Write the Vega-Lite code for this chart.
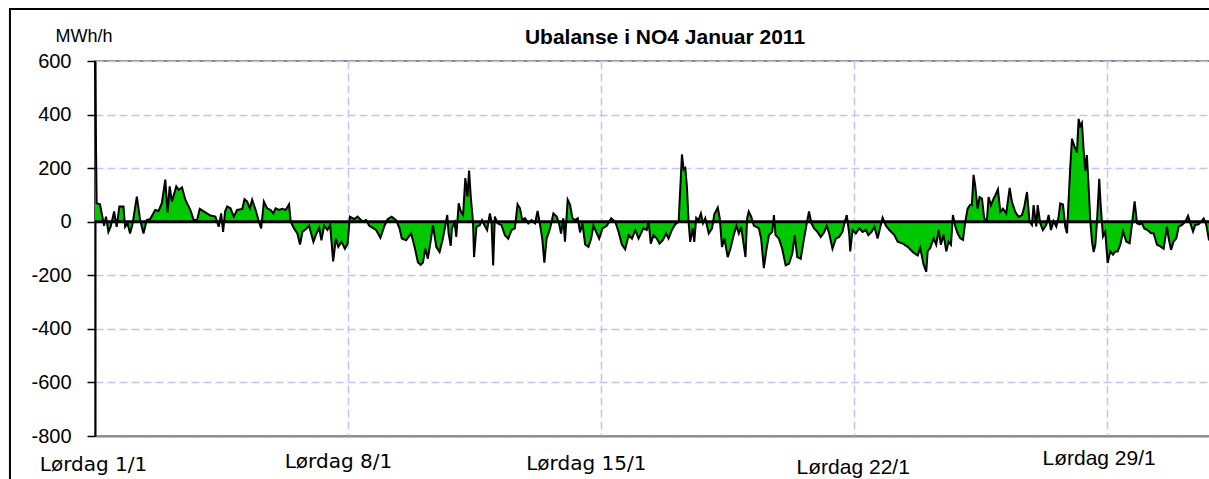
{
  "$schema": "https://vega.github.io/schema/vega-lite/v6.json",
  "width": 1120,
  "height": 375,
  "autosize": {"type": "none"},
  "padding": {"left": 95, "top": 61, "right": 0, "bottom": 43},
  "background": "white",
  "config": {"view": {"stroke": "#8c8c8c", "strokeWidth": 2}, "font": "Liberation Sans"},
  "title": {"text": "Ubalanse i NO4 Januar 2011", "font": "Liberation Sans", "fontSize": 21, "fontWeight": "bold", "anchor": "middle", "frame": "group", "baseline": "alphabetic", "offset": -57, "dx": 10, "color": "black"},
  "data": {"values": [
    {"h":0,"v":600},{"h":1.1,"v":69},{"h":3.3,"v":65},{"h":5.1,"v":13},{"h":6,"v":-15},{"h":7.3,"v":19},{"h":8.9,"v":-38},{"h":10.4,"v":-19},{"h":12.7,"v":38},{"h":14.4,"v":-19},{"h":16.2,"v":57},{"h":18.9,"v":57},{"h":20,"v":-19},{"h":21.6,"v":-6},{"h":23.3,"v":-44},{"h":24.9,"v":-10},{"h":27.8,"v":94},{"h":30,"v":6},{"h":32.2,"v":-44},{"h":34.4,"v":6},{"h":36.7,"v":10},{"h":40,"v":44},{"h":42.2,"v":40},{"h":44.4,"v":69},{"h":46.7,"v":157},{"h":48.2,"v":35},{"h":49.6,"v":132},{"h":51.1,"v":75},{"h":54,"v":132},{"h":55.6,"v":119},{"h":57.8,"v":128},{"h":60,"v":82},{"h":63.3,"v":44},{"h":65.6,"v":6},{"h":67.8,"v":6},{"h":69.6,"v":48},{"h":73.3,"v":35},{"h":76.7,"v":23},{"h":80,"v":19},{"h":82.2,"v":-19},{"h":83.8,"v":31},{"h":85.1,"v":-38},{"h":86.4,"v":38},{"h":87.8,"v":57},{"h":90,"v":50},{"h":92.2,"v":19},{"h":94.4,"v":44},{"h":97.8,"v":48},{"h":99.3,"v":84},{"h":101.1,"v":75},{"h":102.9,"v":50},{"h":104.4,"v":82},{"h":106.7,"v":44},{"h":108.9,"v":0},{"h":110.4,"v":-25},{"h":112.2,"v":75},{"h":114.4,"v":50},{"h":116.7,"v":44},{"h":118.4,"v":31},{"h":120,"v":50},{"h":122.2,"v":44},{"h":124.4,"v":48},{"h":126.7,"v":44},{"h":128.9,"v":65},{"h":130,"v":0},{"h":132.2,"v":-25},{"h":134.4,"v":-44},{"h":136.2,"v":-85},{"h":137.8,"v":-38},{"h":140,"v":-28},{"h":142.2,"v":-15},{"h":145.1,"v":-75},{"h":146.7,"v":-50},{"h":148.9,"v":-23},{"h":150.4,"v":-69},{"h":152.2,"v":-15},{"h":154.4,"v":-31},{"h":156.2,"v":-13},{"h":158.2,"v":-148},{"h":160,"v":-63},{"h":161.6,"v":-94},{"h":163.8,"v":-75},{"h":166,"v":-101},{"h":167.8,"v":-82},{"h":169.3,"v":19},{"h":172.2,"v":10},{"h":174.4,"v":19},{"h":177.8,"v":0},{"h":180,"v":6},{"h":182.2,"v":-15},
    {"h":184.5,"v":-23},{"h":186.7,"v":-31},{"h":189.6,"v":-60},{"h":192.3,"v":-15},{"h":194.5,"v":10},{"h":197.1,"v":19},{"h":200,"v":6},{"h":202.3,"v":-25},{"h":203.8,"v":-63},{"h":206.7,"v":-69},{"h":210,"v":-44},{"h":212.3,"v":-94},{"h":214.5,"v":-151},{"h":216.3,"v":-161},{"h":217.8,"v":-153},{"h":219.4,"v":-101},{"h":221.1,"v":-138},{"h":222.9,"v":-75},{"h":224.5,"v":-13},{"h":226.7,"v":-94},{"h":228.9,"v":-113},{"h":231.1,"v":-63},{"h":232.7,"v":-15},{"h":234,"v":25},{"h":234.9,"v":-44},{"h":236.3,"v":-90},{"h":237.1,"v":-25},{"h":238.9,"v":-3},{"h":240,"v":-57},{"h":241.6,"v":69},{"h":242.9,"v":40},{"h":244.5,"v":25},{"h":246,"v":163},{"h":247.4,"v":94},{"h":248.5,"v":191},{"h":249.6,"v":94},{"h":251.1,"v":0},{"h":251.8,"v":-132},{"h":253.4,"v":-19},{"h":255.6,"v":-13},{"h":257.1,"v":6},{"h":258.9,"v":-15},{"h":260.5,"v":-31},{"h":262.3,"v":31},{"h":263.4,"v":0},{"h":264.5,"v":-163},{"h":265.6,"v":19},{"h":267.4,"v":-6},{"h":270,"v":-13},{"h":272.3,"v":-50},{"h":274.5,"v":-63},{"h":276.7,"v":-31},{"h":278.9,"v":-25},{"h":280.7,"v":65},{"h":282.3,"v":50},{"h":283.8,"v":6},{"h":285.6,"v":13},{"h":287.8,"v":-6},{"h":290,"v":6},{"h":292.3,"v":-6},{"h":294,"v":40},{"h":295.6,"v":-10},{"h":297.1,"v":-63},{"h":298.5,"v":-153},{"h":300,"v":-63},{"h":302.3,"v":-25},{"h":304.5,"v":31},{"h":306.7,"v":19},{"h":308.2,"v":-6},{"h":309.6,"v":-44},{"h":311.1,"v":13},{"h":312.2,"v":-75},{"h":314,"v":82},{"h":315.6,"v":63},{"h":317.1,"v":13},{"h":318.9,"v":6},{"h":320.7,"v":13},{"h":322.2,"v":-40},{"h":323.8,"v":-6},{"h":325.6,"v":-85},{"h":327.8,"v":-94},{"h":329.6,"v":-63},{"h":331.1,"v":-15},{"h":333.4,"v":-44},{"h":334.9,"v":-63},{"h":337.1,"v":-25},{"h":340,"v":-15},{"h":342.9,"v":13},{"h":345.6,"v":0},{"h":347.8,"v":-38},{"h":350,"v":-85},{"h":352.2,"v":-103},{"h":354.5,"v":-50},{"h":356.7,"v":-63},{"h":358.9,"v":-31},{"h":361.1,"v":-63},
    {"h":364.3,"v":-25},{"h":366.5,"v":-31},{"h":367.7,"v":3},{"h":369.2,"v":-82},{"h":371,"v":-50},{"h":373.2,"v":-63},{"h":375,"v":-82},{"h":377.2,"v":-69},{"h":379.4,"v":-44},{"h":381,"v":-63},{"h":383.2,"v":-31},{"h":385.4,"v":-10},{"h":387.7,"v":0},{"h":388.8,"v":126},{"h":389.9,"v":251},{"h":391,"v":195},{"h":392.1,"v":201},{"h":393.2,"v":132},{"h":394.3,"v":0},{"h":395.4,"v":-75},{"h":397,"v":-25},{"h":398.1,"v":-75},{"h":399.4,"v":15},{"h":401,"v":6},{"h":402.5,"v":31},{"h":403.9,"v":-6},{"h":405.4,"v":13},{"h":407.7,"v":-44},{"h":409.9,"v":-25},{"h":411.4,"v":28},{"h":413.7,"v":53},{"h":415,"v":13},{"h":416.5,"v":-94},{"h":418.1,"v":-63},{"h":420.3,"v":-132},{"h":422.1,"v":-101},{"h":424.3,"v":-50},{"h":426.1,"v":-15},{"h":427.7,"v":-44},{"h":429.2,"v":-19},{"h":430.5,"v":-69},{"h":432.1,"v":-132},{"h":433.2,"v":13},{"h":434.3,"v":38},{"h":435.9,"v":19},{"h":437.7,"v":-15},{"h":439.4,"v":-19},{"h":441,"v":-25},{"h":442.5,"v":-63},{"h":444.3,"v":-173},{"h":446.1,"v":-101},{"h":447.7,"v":-50},{"h":449.9,"v":-38},{"h":451,"v":25},{"h":452.1,"v":-50},{"h":454.3,"v":-63},{"h":456.5,"v":-101},{"h":458.8,"v":-163},{"h":461,"v":-157},{"h":463.2,"v":-119},{"h":464.8,"v":-50},{"h":466.5,"v":-132},{"h":468.8,"v":-138},{"h":471,"v":-63},{"h":472.8,"v":-6},{"h":474.3,"v":38},{"h":475.9,"v":-6},{"h":477.7,"v":-25},{"h":479.9,"v":-38},{"h":482.1,"v":-57},{"h":484.3,"v":-40},{"h":486.1,"v":-15},{"h":487.7,"v":-44},{"h":489.9,"v":-101},{"h":492.1,"v":-63},{"h":494.3,"v":-57},{"h":496.5,"v":-38},{"h":498.1,"v":0},{"h":499.4,"v":25},{"h":501,"v":-44},{"h":501.7,"v":-111},{"h":503.2,"v":-31},{"h":505.4,"v":-44},{"h":507.7,"v":-25},{"h":509.9,"v":-38},{"h":512.1,"v":-31},{"h":513.7,"v":-50},{"h":515.9,"v":-38},{"h":517.7,"v":-19},{"h":519.9,"v":-63},{"h":521.7,"v":-19},{"h":523.2,"v":15},{"h":525.4,"v":-15},{"h":527.7,"v":-31},{"h":531,"v":-50},{"h":533.2,"v":-75},{"h":536.6,"v":-82},{"h":539.9,"v":-94},{"h":543.2,"v":-113},{"h":546.5,"v":-126},
    {"h":548.2,"v":-98},{"h":550.4,"v":-160},{"h":552.2,"v":-187},{"h":553.1,"v":-111},{"h":554.8,"v":-98},{"h":557.1,"v":-62},{"h":558.8,"v":-86},{"h":560.4,"v":-31},{"h":561.9,"v":-86},{"h":563.7,"v":-49},{"h":565.5,"v":-111},{"h":567,"v":-74},{"h":568.6,"v":-86},{"h":569.9,"v":25},{"h":571.5,"v":-18},{"h":573,"v":-43},{"h":574.8,"v":-62},{"h":576.6,"v":-68},{"h":578.1,"v":0},{"h":579.7,"v":49},{"h":581.4,"v":64},{"h":582.5,"v":62},{"h":583.6,"v":175},{"h":584.7,"v":135},{"h":586.3,"v":49},{"h":587.6,"v":92},{"h":589.2,"v":86},{"h":590.7,"v":12},{"h":592.5,"v":6},{"h":593.6,"v":92},{"h":595.2,"v":62},{"h":596.9,"v":86},{"h":598,"v":98},{"h":599.8,"v":121},{"h":601.4,"v":37},{"h":603.1,"v":49},{"h":605.3,"v":31},{"h":607.6,"v":126},{"h":609.1,"v":74},{"h":611.3,"v":37},{"h":613.5,"v":18},{"h":615.8,"v":25},{"h":617.3,"v":55},{"h":619.1,"v":111},{"h":620.8,"v":0},{"h":622.4,"v":-12},{"h":623.5,"v":62},{"h":625.3,"v":-18},{"h":626.2,"v":62},{"h":627.9,"v":-6},{"h":629.7,"v":-31},{"h":631.9,"v":-12},{"h":633.5,"v":25},{"h":635,"v":-31},{"h":636.8,"v":2},{"h":638.6,"v":-18},{"h":640.1,"v":18},{"h":641.2,"v":68},{"h":643,"v":64},{"h":644.5,"v":-18},{"h":645.7,"v":-43},{"h":646.8,"v":86},{"h":647.9,"v":209},{"h":649,"v":310},{"h":650.5,"v":283},{"h":652.3,"v":259},{"h":653.4,"v":384},{"h":654.5,"v":357},{"h":655.6,"v":369},{"h":656.7,"v":271},{"h":657.8,"v":191},{"h":658.9,"v":249},{"h":660,"v":135},{"h":661.2,"v":0},{"h":662.3,"v":-74},{"h":663.4,"v":-113},{"h":664.5,"v":-86},{"h":665.6,"v":0},{"h":667.1,"v":160},{"h":668.2,"v":49},{"h":669.6,"v":-55},{"h":671.1,"v":-37},{"h":672.7,"v":-154},{"h":674.4,"v":-111},{"h":676.2,"v":-123},{"h":677.8,"v":-111},{"h":679.3,"v":-111},{"h":681.1,"v":-86},{"h":682.9,"v":-37},{"h":685.1,"v":-74},{"h":687.3,"v":-80},{"h":688.8,"v":-12},{"h":690.6,"v":76},{"h":692.2,"v":-6},{"h":693.9,"v":-10},{"h":695.5,"v":-6},{"h":697,"v":-25},{"h":699.2,"v":-31},{"h":701.5,"v":-43},{"h":703.2,"v":-43},{"h":705.5,"v":-86},{"h":707.7,"v":-92},{"h":709.9,"v":-101},{"h":712.1,"v":-18},{"h":713.2,"v":-62},{"h":714.8,"v":-105},{"h":716.5,"v":-74},{"h":718.3,"v":-62},{"h":719.9,"v":-18},{"h":722.1,"v":-12},{"h":724.3,"v":0},{"h":726.1,"v":22},{"h":727.6,"v":-6},{"h":729.4,"v":-37},{"h":730.9,"v":-12},{"h":733.1,"v":-10},{"h":734.9,"v":0},{"h":736.5,"v":12},{"h":738.2,"v":-12},{"h":739.8,"v":-62},{"h":742,"v":-40},{"h":744,"v":-55}
  ]},
  "layer": [
    {
      "data": {"values": [{}]},
      "mark": {"type": "rect", "fill": "transparent", "stroke": "black", "strokeWidth": 2, "clip": false},
      "encoding": {
        "x": {"datum": -56.5, "type": "quantitative", "scale": {"domain": [0, 744], "nice": false, "zero": false}},
        "x2": {"datum": 900},
        "y": {"datum": 794, "type": "quantitative", "scale": {"domain": [-800, 600], "nice": false}},
        "y2": {"datum": -1300}
      }
    },
    {
      "mark": {"type": "area", "color": "#00c800"},
      "encoding": {
        "x": {"field": "h", "type": "quantitative", "scale": {"domain": [0, 744], "nice": false, "zero": false},
          "axis": {
            "values": [0, 168, 336, 504, 672],
            "labelExpr": "'Lørdag ' + (datum.value/24+1) + '/1'",
            "title": null,
            "grid": true, "gridColor": "#c4c4f6", "gridDash": [8, 4], "gridWidth": 1.5,
            "ticks": false, "tickSize": 0,
            "domain": true, "domainColor": "#8c8c8c", "domainWidth": 2,
            "labelColor": "black", "labelAlign": "center", "labelBaseline": "alphabetic",
            "labelFont": {"condition": {"test": "datum.value > 400", "value": "Liberation Sans"}, "value": "DejaVu Sans"},
            "labelFontSize": {"condition": {"test": "datum.value > 400", "value": 21}, "value": 20},
            "labelPadding": {"condition": [{"test": "datum.value == 0", "value": 34}, {"test": "datum.value == 168", "value": 31}, {"test": "datum.value == 336", "value": 33}, {"test": "datum.value == 504", "value": 37}], "value": 28},
            "labelOffset": {"condition": [{"test": "datum.value == 0", "value": -2}, {"test": "datum.value == 168", "value": -10}, {"test": "datum.value == 336", "value": -15}, {"test": "datum.value == 504", "value": -1}], "value": -8},
            "labelFlush": false, "labelOverlap": false
          }
        },
        "y": {"field": "v", "type": "quantitative", "scale": {"domain": [-800, 600], "nice": false},
          "axis": {
            "values": [-800, -600, -400, -200, 0, 200, 400, 600],
            "labelExpr": "'' + datum.value",
            "title": "MWh/h", "titleAngle": 0, "titleAlign": "left", "titleBaseline": "alphabetic",
            "titleX": -40, "titleY": -20, "titleFont": "Liberation Sans", "titleFontSize": 18, "titleFontWeight": "normal", "titleColor": "black",
            "grid": true, "gridColor": "#c4c4f6", "gridDash": [8, 4], "gridWidth": 1.5,
            "ticks": true, "tickSize": 8, "tickColor": "black", "tickWidth": 1.5,
            "domain": true, "domainColor": "black", "domainWidth": 2,
            "labelFont": "Liberation Sans", "labelFontSize": 20, "labelColor": "black", "labelPadding": 16
          }
        },
        "y2": {"datum": 0}
      }
    },
    {
      "mark": {"type": "line", "color": "black", "strokeWidth": 2},
      "encoding": {
        "x": {"field": "h", "type": "quantitative"},
        "y": {"field": "v", "type": "quantitative"}
      }
    },
    {
      "data": {"values": [{}]},
      "mark": {"type": "rule", "color": "black", "strokeWidth": 3},
      "encoding": {"y": {"datum": 0, "type": "quantitative"}}
    }
  ]
}
